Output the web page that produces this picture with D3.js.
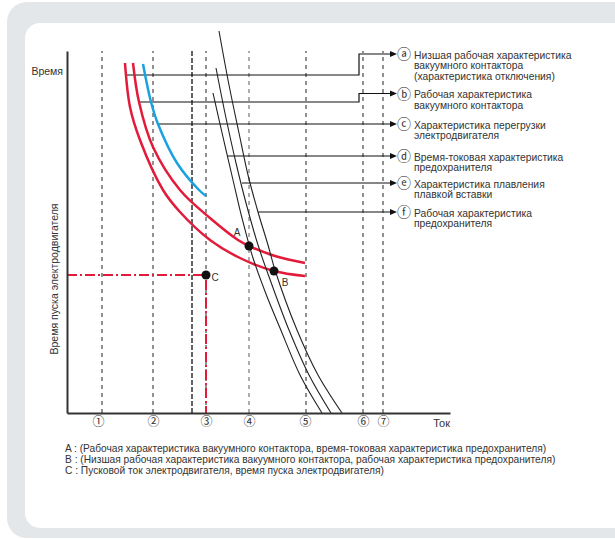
<!DOCTYPE html>
<html>
<head>
<meta charset="utf-8">
<script src="https://cdn.jsdelivr.net/npm/d3@7"></script>
<style>
body { margin: 0; background: #fff; }
svg text { font-family: "Liberation Sans Narrow", "Arial Narrow", "Liberation Sans", sans-serif; fill: #333; }
svg text.circ { font-family: "Noto Sans CJK JP", sans-serif; }
</style>
</head>
<body>
<div id="chart"></div>
<script>
// current (x) and time (y) in arbitrary units
const tickPos = [31, 86, 139, 182, 238, 296, 316];
const tickLabels = ["①", "②", "③", "④", "⑤", "⑥", "⑦"];
const gridX = [35, 86, 125, 139, 182, 239, 296, 316];
const gridKind = ["d", "d", "thick", "d", "grey", "d", "d", "d"];

const lowVacuum = [[58,350],[63,306],[73,273],[96,223],[113,201],[143,173],[173,155],[207,142],[238,137]];
const vacuum = [[66,350],[72,311],[86,266],[113,223],[143,195],[171,173],[182,167],[208,157],[238,150]];
const motorOverload = [[76,349],[84,311],[91,289],[110,250],[132,223],[139,217]];
const fuseTimeCurrent = [[146,320],[156,276],[166,233],[175,195],[186,155],[199,119],[213,85],[233,38],[255,0]];
const fuseMelting = [[149,345],[159,295],[169,250],[179,210],[191,168],[205,128],[222,83],[242,38],[264,0]];
const fuseOperating = [[152,382],[162,328],[172,280],[181,238],[191,201],[201,168],[208,143],[230,83],[251,38],[275,0]];

const points = [{name: "A", v: [182,167]}, {name: "B", v: [207,142]}, {name: "C", v: [139,138]}];

const legendMarks = ["ⓐ", "ⓑ", "ⓒ", "ⓓ", "ⓔ", "ⓕ"];
const legendText = [
  ["Низшая рабочая характеристика", "вакуумного контактора", "(характеристика отключения)"],
  ["Рабочая характеристика", "вакуумного контактора"],
  ["Характеристика перегрузки", "электродвигателя"],
  ["Время-токовая характеристика", "предохранителя"],
  ["Характеристика плавления", "плавкой вставки"],
  ["Рабочая характеристика", "предохранителя"]
];
// where each leader starts on its curve
const legendFrom = [[59,338],[72,311],[91,289],[160,257],[175,230],[191,201]];

const notes = [
  "A : (Рабочая характеристика вакуумного контактора, время-токовая характеристика предохранителя)",
  "B : (Низшая рабочая характеристика вакуумного контактора, рабочая характеристика предохранителя)",
  "C : Пусковой ток электродвигателя, время пуска электродвигателя)"
];

const W = 615, H = 540;
const red = "#e31b3b", blue = "#1aa2e0";

const svg = d3.select("#chart").append("svg")
  .attr("width", W).attr("height", H);

// panels
svg.append("rect").attr("x", 7).attr("y", 2).attr("width", 700).attr("height", 536)
  .attr("rx", 20).attr("fill", "#e3e7ea");
svg.append("rect").attr("x", 25).attr("y", 23).attr("width", 700).attr("height", 505)
  .attr("rx", 15).attr("fill", "#fff");

const x = d3.scaleLinear().domain([0, 383]).range([67, 450]);
const y = d3.scaleLinear().domain([0, 362]).range([413, 51]);

const line = d3.line()
  .x(d => x(d[0])).y(d => y(d[1]))
  .curve(d3.curveCatmullRom.alpha(0.5));
const straight = d3.line()
  .x(d => x(d[0])).y(d => y(d[1]));

// dashed verticals
svg.selectAll(".grid")
  .data(gridX)
  .enter()
  .append("line")
  .attr("class", "grid")
  .attr("x1", d => x(d)).attr("x2", d => x(d))
  .attr("y1", y(0)).attr("y2", y(362))
  .attr("stroke", (d, i) => gridKind[i] == "grey" ? "#8a8a8a" : "#222")
  .attr("stroke-width", (d, i) => gridKind[i] == "d" ? 1 : 1.4)
  .attr("stroke-dasharray", (d, i) => gridKind[i] == "thick" ? "5,2" : "4,4");

// motor start: dash-dot red
const C = points[2].v;
svg.append("path")
  .attr("d", straight([[0, C[1]], C, [C[0], 0]]))
  .attr("fill", "none").attr("stroke", red).attr("stroke-width", 2)
  .attr("stroke-dasharray", "10,3,2,3");

// leaders and arrows
const bendX = 359, tipX = 397;
const legendY = [54, 93.5, 124.3, 156, 183.3, 212.3];
legendFrom.forEach((p, i) => {
  const sx = x(p[0]), sy = y(p[1]);
  const bent = Math.abs(sy - legendY[i]) > 4;
  const ty = bent ? legendY[i] : sy;
  const d = bent ? `M${sx},${sy}H${bendX}V${ty}H${tipX - 6}` : `M${sx},${sy}H${tipX - 6}`;
  svg.append("path").attr("d", d).attr("fill", "none")
    .attr("stroke", "#111").attr("stroke-width", 1.2);
  svg.append("path")
    .attr("d", `M${tipX - 7},${ty - 3}L${tipX},${ty}L${tipX - 7},${ty + 3}Z`)
    .attr("fill", "#111");
  svg.append("text").attr("class", "circ")
    .attr("x", 404).attr("y", ty).attr("dy", "0.36em")
    .attr("text-anchor", "middle").attr("font-size", 14)
    .text(legendMarks[i]);
  const t = svg.append("text").attr("x", 414).attr("y", ty + 1).attr("font-size", 10.3);
  legendText[i].forEach((s, j) => {
    t.append("tspan").attr("x", 414).attr("dy", j == 0 ? "0.36em" : 10.7).text(s);
  });
});

// curves
const curves = [
  {data: lowVacuum, color: red, w: 2.5},
  {data: vacuum, color: red, w: 2.5},
  {data: motorOverload, color: blue, w: 2.5},
  {data: fuseTimeCurrent, color: "#222", w: 1.1},
  {data: fuseMelting, color: "#222", w: 1.1},
  {data: fuseOperating, color: "#222", w: 1.1}
];
svg.selectAll(".curve")
  .data(curves)
  .enter()
  .append("path")
  .attr("class", "curve")
  .attr("d", d => line(d.data))
  .attr("fill", "none")
  .attr("stroke", d => d.color)
  .attr("stroke-width", d => d.w);

// A, B, C
const labelOff = {A: [-12, -14], B: [11, 11], C: [9, 2]};
svg.selectAll(".pt")
  .data(points)
  .enter()
  .append("circle")
  .attr("class", "pt")
  .attr("cx", d => x(d.v[0])).attr("cy", d => y(d.v[1]))
  .attr("r", 4.5).attr("fill", "#111");
svg.selectAll(".ptlabel")
  .data(points)
  .enter()
  .append("text")
  .attr("class", "ptlabel")
  .attr("x", d => x(d.v[0]) + labelOff[d.name][0])
  .attr("y", d => y(d.v[1]) + labelOff[d.name][1])
  .attr("dy", "0.36em").attr("text-anchor", "middle")
  .attr("font-size", 10).attr("fill", "#444")
  .text(d => d.name);

// axes
const xAxis = d3.axisBottom(x)
  .tickValues(tickPos)
  .tickFormat((d, i) => tickLabels[i])
  .tickSize(0).tickPadding(4);
const xAxisG = svg.append("g")
  .attr("transform", `translate(0,${y(0)})`)
  .call(xAxis);
xAxisG.select(".domain").attr("stroke", "#333").attr("stroke-width", 2);
xAxisG.selectAll("text").attr("class", "circ").attr("font-size", 12).attr("fill", "#444");

const yAxisG = svg.append("g")
  .attr("transform", `translate(${x(0)},0)`)
  .call(d3.axisLeft(y).tickValues([]).tickSizeOuter(0));
yAxisG.select(".domain").attr("stroke", "#333").attr("stroke-width", 2);

svg.append("text").attr("x", 450).attr("y", 423).attr("dy", "0.36em")
  .attr("text-anchor", "end").attr("font-size", 11).text("Ток");
svg.append("text").attr("x", 63).attr("y", 71).attr("dy", "0.36em")
  .attr("text-anchor", "end").attr("font-size", 10.5).text("Время");
svg.append("text")
  .attr("transform", "translate(54,279) rotate(-90)")
  .attr("dy", "0.36em").attr("text-anchor", "middle").attr("font-size", 10.5)
  .text("Время пуска электродвигателя");

// footnotes
svg.selectAll(".note")
  .data(notes)
  .enter()
  .append("text")
  .attr("class", "note")
  .attr("x", 65)
  .attr("y", (d, i) => 448 + i * 11.3)
  .attr("dy", "0.36em")
  .attr("font-size", 10.2)
  .text(d => d);
</script>
</body>
</html>
